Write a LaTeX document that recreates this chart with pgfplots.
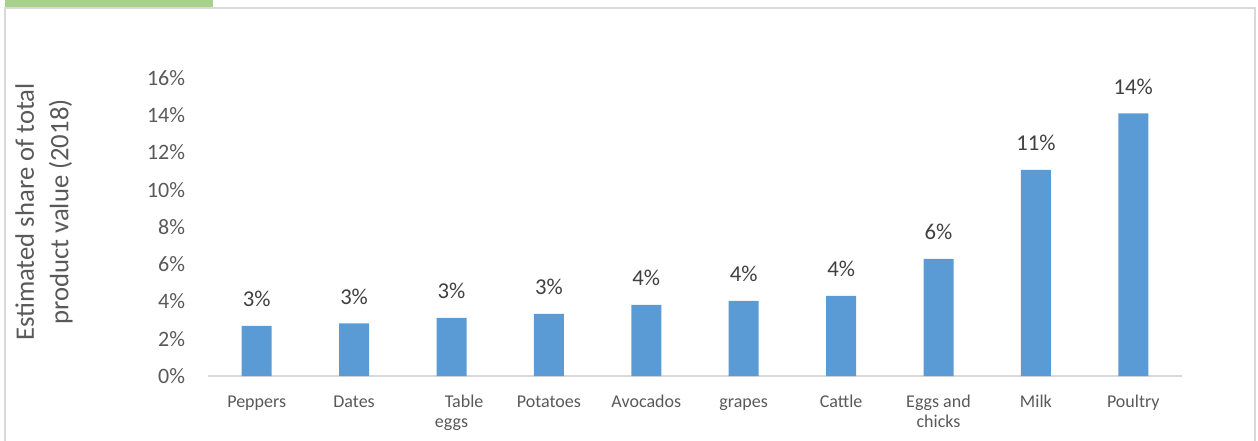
\documentclass[border=0pt]{standalone}
\usepackage{fontspec}
\setmainfont{Carlito}
\usepackage{pgfplots}
\pgfplotsset{compat=1.18}
\definecolor{barblue}{HTML}{5B9BD5}
\definecolor{txt}{HTML}{595959}
\definecolor{lbl}{HTML}{404040}
\definecolor{framec}{HTML}{D9D9D9}
\definecolor{tabc}{HTML}{A9D18E}
\begin{document}
\begin{tikzpicture}[x=0.75pt,y=0.75pt]
\useasboundingbox (0,0) rectangle (1258,440);
\fill[tabc] (5,432) rectangle (213,440);
\draw[framec, line width=1.5pt] (5,-2) -- (5,432) -- (1255,432) -- (1255,-2);
\node[rotate=90, align=center, text=txt, font=\fontsize{20}{26}\selectfont] at (44,228) {Estimated share of total\\product value (2018)};
\begin{axis}[at={(156pt,48pt)}, anchor=south west, scale only axis,
  width=730.5pt, height=223.5pt,
  xmin=-0.5, xmax=9.5, ymin=0, ymax=16,
  axis x line*=bottom, axis y line*=left,
  axis line style={-},
  x axis line style={draw=framec, line width=1.2pt},
  y axis line style={draw=none},
  tick style={draw=none},
  ytick={0,2,...,16},
  yticklabel={\pgfmathprintnumber{\tick}\%},
  /pgf/number format/assume math mode=true,
  yticklabel style={inner sep=0pt, anchor=east, xshift=-17pt, text=txt, font=\fontsize{16.5}{20}\selectfont},
  xtick={0,...,9},
  xticklabels={\strut Peppers, \strut Dates, {\strut\hspace*{1.4em}Table\\eggs}, \strut Potatoes, \strut Avocados, \strut grapes, \strut Cattle, {\strut Eggs and\\chicks}, \strut Milk, \strut Poultry},
  xticklabel style={inner sep=0pt, anchor=north, yshift=-12.4pt, align=center, text=txt, font=\fontsize{13.5}{15.5}\selectfont},
  clip=false,
]
\addplot[ybar, bar width=22.5pt, fill=barblue, draw=none,
  nodes near coords={\pgfmathprintnumber[fixed,precision=0]{\pgfplotspointmeta}\%},
  nodes near coords style={inner sep=0pt, anchor=south, yshift=14pt, text=lbl, font=\fontsize{17}{20}\selectfont, /pgf/number format/assume math mode=true},
] coordinates {
(0,2.69) (1,2.83) (2,3.12) (3,3.33) (4,3.82) (5,4.03) (6,4.30) (7,6.29) (8,11.07) (9,14.1)
};
\end{axis}
\end{tikzpicture}
\end{document}
